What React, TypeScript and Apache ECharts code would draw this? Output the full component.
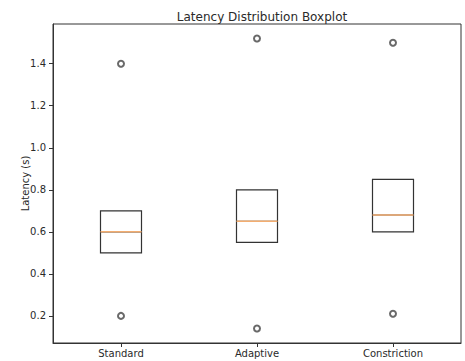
import React, { useEffect, useRef } from "react";
import * as echarts from "echarts";

const categories = ["Standard", "Adaptive", "Constriction"];
// [lower whisker, Q1, median, Q3, upper whisker]
const boxValues = [
  [0.5, 0.5, 0.6, 0.7, 0.7],
  [0.55, 0.55, 0.65, 0.8, 0.8],
  [0.6, 0.6, 0.68, 0.85, 0.85],
];
const medians = [0.6, 0.65, 0.68];
// outliers as [category index, value]
const outliers = [
  [0, 1.4],
  [0, 0.2],
  [1, 1.52],
  [1, 0.14],
  [2, 1.5],
  [2, 0.21],
];
const yTicks = [0.2, 0.4, 0.6, 0.8, 1.0, 1.2, 1.4];

export default function App() {
  const ref = useRef<HTMLDivElement>(null);
  useEffect(() => {
    if (!ref.current) return;
    const chart = echarts.init(ref.current, null, { renderer: "svg" });
    const font = "DejaVu Sans";
    const dark = "#2a2a2a";
    chart.setOption({
      animation: false,
      backgroundColor: "#ffffff",
      title: {
        text: "Latency Distribution Boxplot",
        left: 257,
        top: 6,
        textAlign: "center",
        textStyle: { fontFamily: font, fontSize: 12, fontWeight: "normal", color: dark },
      },
      grid: {
        left: 53,
        right: 4,
        top: 24,
        bottom: 18,
        show: true,
        borderColor: "#333",
        borderWidth: 1,
        backgroundColor: "transparent",
      },
      xAxis: {
        type: "category",
        data: categories,
        boundaryGap: true,
        axisLine: { show: true, lineStyle: { color: "#333", width: 1 } },
        axisTick: { show: true, alignWithLabel: true, length: 4, lineStyle: { color: "#333" } },
        axisLabel: { margin: 5, fontFamily: font, fontSize: 10, color: dark },
        splitLine: { show: false },
      },
      yAxis: {
        type: "value",
        min: 0.071,
        max: 1.589,
        name: "Latency (s)",
        nameLocation: "middle",
        nameGap: 23,
        nameMoveOverlap: false,
        nameTextStyle: { fontFamily: font, fontSize: 10, color: dark },
        axisLine: { show: true, lineStyle: { color: "#333", width: 1 } },
        axisTick: { show: true, length: 4, lineStyle: { color: "#333" }, customValues: yTicks },
        axisLabel: {
          margin: 7,
          fontFamily: font,
          fontSize: 10,
          color: dark,
          customValues: yTicks,
          formatter: (v: number) => v.toFixed(1),
        },
        splitLine: { show: false },
      },
      series: [
        {
          type: "boxplot",
          data: boxValues,
          boxWidth: [41, 41],
          itemStyle: { color: "#ffffff", borderColor: "#333", borderWidth: 1.2 },
          z: 2,
        },
        {
          type: "custom",
          data: medians.map((m, i) => [i, m]),
          z: 3,
          renderItem: (params: any, api: any) => {
            const c = api.coord([api.value(0), api.value(1)]);
            const w = 41;
            return {
              type: "line",
              shape: { x1: c[0] - w / 2, y1: c[1], x2: c[0] + w / 2, y2: c[1] },
              style: { stroke: "#f3ad70", lineWidth: 1.5 },
            };
          },
        },
        {
          type: "scatter",
          data: outliers,
          symbol: "emptyCircle",
          symbolSize: 6,
          itemStyle: { color: "#444", borderColor: "#444", borderWidth: 1 },
          z: 4,
        },
      ],
    });
    return () => chart.dispose();
  }, []);
  return (
    <div
      ref={ref}
      style={{ position: "fixed", left: 0, top: 0, width: 465, height: 361 }}
    />
  );
}
